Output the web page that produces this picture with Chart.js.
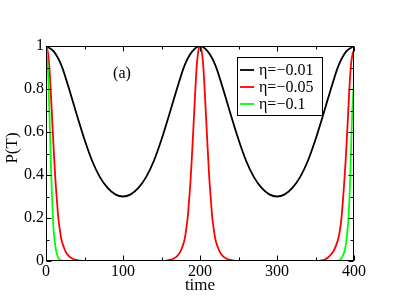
<!DOCTYPE html>
<html><head><meta charset="utf-8">
<script src="https://cdn.jsdelivr.net/npm/chart.js@4.4.1/dist/chart.umd.min.js"></script>
<style>html,body{margin:0;padding:0;background:#fff;}#wrap{width:399px;height:308px;position:relative;}</style>
</head><body><div id="wrap"><canvas id="c" width="399" height="308"></canvas></div>
<script>
const seriesLabels = ['η=−0.01', 'η=−0.05', 'η=−0.1'];
const seriesColors = ['#000000', '#ff0000', '#00ff00'];
const xTickValues = [0, 100, 200, 300, 400];
const yTickValues = [0, 0.2, 0.4, 0.6, 0.8, 1];
const xTitle = 'time';
const yTitle = 'P(T)';
const panelLabel = '(a)';

const blackT = [0,10,20,30,40,50,60,70,80,90,100,110,120,130,140,150,160,170,180,190,200,
                210,220,230,240,250,260,270,280,290,300,310,320,330,340,350,360,370,380,390,400];
const blackP = [1,0.975,0.91,0.80,0.68,0.565,0.465,0.39,0.34,0.31,0.30,0.31,0.34,0.39,0.465,0.565,0.68,0.80,0.91,0.975,1,
                0.975,0.91,0.80,0.68,0.565,0.465,0.39,0.34,0.31,0.30,0.31,0.34,0.39,0.465,0.565,0.68,0.80,0.91,0.975,1];

const redT = [0,2,4,6,8,10,12,14,16,18,20,23,26,30,34,38,42,46,50,
              150,154,158,162,166,170,174,177,180,182,184,186,188,190,192,194,196,198,200,
              202,204,206,208,210,212,214,216,218,220,223,226,230,234,238,242,246,250,
              350,354,358,362,366,370,374,377,380,382,384,386,388,390,392,394,396,398,400];
const redP = [1,0.98,0.92,0.80,0.66,0.52,0.39,0.29,0.20,0.145,0.10,0.065,0.04,0.022,0.012,0.006,0.003,0.001,0,
              0,0.001,0.003,0.006,0.012,0.022,0.04,0.065,0.10,0.145,0.20,0.29,0.39,0.52,0.66,0.80,0.92,0.98,1,
              0.98,0.92,0.80,0.66,0.52,0.39,0.29,0.20,0.145,0.10,0.065,0.04,0.022,0.012,0.006,0.003,0.001,0,
              0,0.001,0.003,0.007,0.015,0.03,0.05,0.075,0.11,0.15,0.21,0.30,0.40,0.52,0.66,0.80,0.91,0.96,0.98];

const greenT = [0,1,2,3,4,5,6,7,8,9,10,12,14,16,18,20,24,
                376,380,383,385,388,390,392,393,394,395,396,397,398,399,400];
const greenP = [1,0.97,0.92,0.85,0.74,0.62,0.50,0.38,0.28,0.20,0.14,0.07,0.035,0.015,0.006,0.002,0,
                0,0.002,0.01,0.02,0.05,0.09,0.16,0.21,0.28,0.37,0.50,0.62,0.71,0.78,0.83];

function pts(t, p) { return t.map((v, i) => ({x: v, y: p[i]})); }

const SERIF = '"Liberation Serif", "DejaVu Serif", serif';

const decor = {
  id: 'decor',
  afterDatasetsDraw(chart) {
    const {ctx, chartArea: a, scales: {x, y}} = chart;
    ctx.save();
    ctx.strokeStyle = '#000';
    ctx.lineWidth = 1;
    const L = Math.round(a.left) + 0.5, R = Math.round(a.right) - 0.5;
    const T = Math.round(a.top) + 0.5, B = Math.round(a.bottom) - 0.5;
    ctx.strokeRect(L, T, R - L, B - T);
    ctx.beginPath();
    for (let t = 0; t <= 400; t += 50) {
      const px = Math.round(x.getPixelForValue(t)) + 0.5;
      const len = (t % 100 === 0) ? 5 : 3;
      ctx.moveTo(px, B); ctx.lineTo(px, B - len);
      ctx.moveTo(px, T); ctx.lineTo(px, T + len);
    }
    for (let k = 0; k <= 10; k++) {
      const py = Math.round(y.getPixelForValue(k / 10)) + 0.5;
      const len = (k % 2 === 0) ? 5 : 3;
      ctx.moveTo(L, py); ctx.lineTo(L + len, py);
      ctx.moveTo(R, py); ctx.lineTo(R - len, py);
    }
    ctx.stroke();

    // legend
    ctx.fillStyle = '#fff';
    ctx.fillRect(237.5, 57.5, 85, 58);
    ctx.strokeStyle = '#000';
    ctx.strokeRect(237.5, 57.5, 85, 58);
    ctx.font = '16px ' + SERIF;
    ctx.textBaseline = 'middle';
    ctx.textAlign = 'left';
    const rows = [70, 87, 104];
    seriesLabels.forEach((lab, i) => {
      ctx.strokeStyle = seriesColors[i];
      ctx.lineWidth = 1.8;
      ctx.beginPath();
      ctx.moveTo(240, rows[i]); ctx.lineTo(254, rows[i]);
      ctx.stroke();
      ctx.fillStyle = '#000';
      ctx.fillText(lab, 259, rows[i] + 1);
    });

    // panel label
    ctx.textAlign = 'center';
    ctx.fillText(panelLabel, 122, 74);

    // axis titles
    ctx.font = '17px ' + SERIF;
    ctx.fillText(xTitle, 200, 286);
    ctx.translate(13, 148);
    ctx.rotate(-Math.PI / 2);
    ctx.fillText(yTitle, 0, 0);
    ctx.restore();
  }
};

new Chart(document.getElementById('c'), {
  type: 'line',
  data: {
    datasets: [
      {label: seriesLabels[0], data: pts(blackT, blackP), borderColor: seriesColors[0], order: 3},
      {label: seriesLabels[1], data: pts(redT, redP), borderColor: seriesColors[1], order: 2},
      {label: seriesLabels[2], data: pts(greenT, greenP), borderColor: seriesColors[2], order: 1}
    ]
  },
  options: {
    responsive: false,
    animation: false,
    devicePixelRatio: 1,
    layout: {padding: {top: 46, right: 45, left: 0, bottom: 0}},
    elements: {
      point: {radius: 0},
      line: {borderWidth: 1.8, cubicInterpolationMode: 'monotone', fill: false}
    },
    plugins: {legend: {display: false}, tooltip: {enabled: false}},
    scales: {
      x: {
        type: 'linear', min: 0, max: 400,
        grid: {display: false, drawTicks: false},
        border: {display: false},
        afterFit(s) { s.height = 47; },
        afterBuildTicks(s) { s.ticks = xTickValues.map(v => ({value: v})); },
        ticks: {color: '#000', padding: 1, autoSkip: false, maxRotation: 0,
                font: {family: SERIF, size: 16}}
      },
      y: {
        type: 'linear', min: 0, max: 1,
        grid: {display: false, drawTicks: false},
        border: {display: false},
        afterFit(s) { s.width = 46; },
        afterBuildTicks(s) { s.ticks = yTickValues.map(v => ({value: v})); },
        ticks: {color: '#000', padding: 2, autoSkip: false,
                font: {family: SERIF, size: 16},
                callback: v => String(v)}
      }
    }
  },
  plugins: [decor]
});
</script></body></html>
